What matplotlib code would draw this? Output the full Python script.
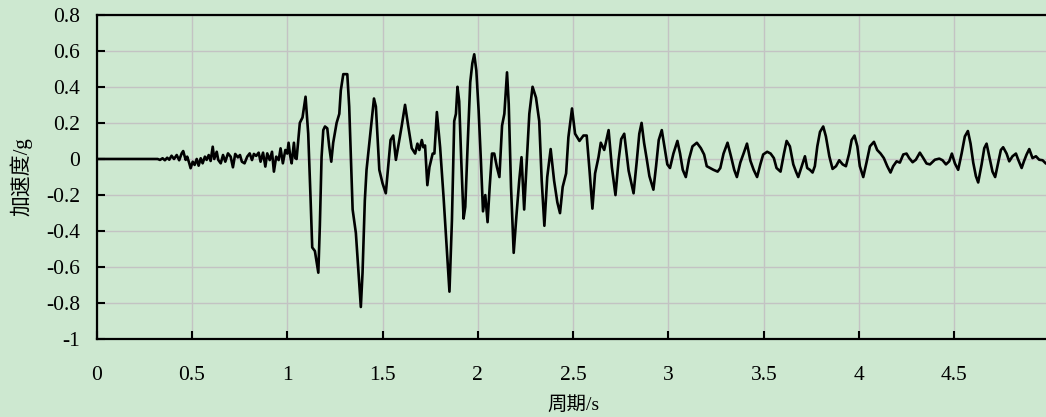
import matplotlib
matplotlib.use("Agg")
import matplotlib.pyplot as plt

# Ground-motion acceleration record (time in s, acceleration in g)
time_s = [
    0.0, 0.32, 0.332, 0.346, 0.358, 0.37, 0.381, 0.393, 0.406, 0.42, 0.433, 0.446, 0.454,
    0.467, 0.475, 0.486, 0.493, 0.504, 0.514, 0.525, 0.535, 0.546, 0.556, 0.568, 0.577,
    0.588, 0.598, 0.609, 0.617, 0.63, 0.638, 0.651, 0.663, 0.675, 0.689, 0.703, 0.715,
    0.727, 0.741, 0.752, 0.762, 0.776, 0.79, 0.803, 0.815, 0.825, 0.837, 0.85, 0.86,
    0.873, 0.885, 0.895, 0.908, 0.92, 0.93, 0.942, 0.955, 0.965, 0.977, 0.99, 1.0,
    1.007, 1.015, 1.023, 1.035, 1.042, 1.049, 1.066, 1.08, 1.096, 1.11, 1.122, 1.131,
    1.145, 1.163, 1.171, 1.18, 1.189, 1.198, 1.21, 1.22, 1.231, 1.241, 1.259, 1.273,
    1.281, 1.294, 1.315, 1.325, 1.334, 1.343, 1.36, 1.372, 1.386, 1.395, 1.407, 1.416,
    1.434, 1.455, 1.465, 1.483, 1.5, 1.517, 1.53, 1.542, 1.556, 1.57, 1.579, 1.591,
    1.6, 1.618, 1.635, 1.653, 1.671, 1.683, 1.693, 1.706, 1.714, 1.723, 1.735, 1.746,
    1.763, 1.772, 1.785, 1.802, 1.82, 1.834, 1.851, 1.864, 1.876, 1.885, 1.893, 1.902,
    1.913, 1.925, 1.934, 1.946, 1.96, 1.971, 1.981, 1.992, 2.004, 2.016, 2.027, 2.039,
    2.051, 2.062, 2.074, 2.086, 2.1, 2.113, 2.127, 2.139, 2.153, 2.162, 2.174, 2.188,
    2.202, 2.217, 2.229, 2.243, 2.256, 2.27, 2.287, 2.305, 2.322, 2.335, 2.349, 2.364,
    2.382, 2.4, 2.417, 2.431, 2.445, 2.463, 2.475, 2.494, 2.51, 2.533, 2.554, 2.571,
    2.586, 2.601, 2.615, 2.633, 2.645, 2.663, 2.686, 2.703, 2.722, 2.738, 2.752, 2.768,
    2.791, 2.817, 2.833, 2.847, 2.859, 2.872, 2.886, 2.9, 2.921, 2.935, 2.949, 2.965,
    2.982, 2.994, 3.008, 3.026, 3.047, 3.061, 3.075, 3.091, 3.108, 3.126, 3.149, 3.17,
    3.187, 3.201, 3.219, 3.236, 3.258, 3.272, 3.289, 3.31, 3.328, 3.345, 3.359, 3.377,
    3.394, 3.412, 3.43, 3.447, 3.465, 3.482, 3.497, 3.518, 3.536, 3.553, 3.567, 3.588,
    3.606, 3.62, 3.637, 3.655, 3.669, 3.681, 3.699, 3.716, 3.728, 3.742, 3.756, 3.768,
    3.781, 3.795, 3.812, 3.826, 3.844, 3.861, 3.879, 3.896, 3.914, 3.931, 3.948, 3.961,
    3.976, 3.991, 4.004, 4.022, 4.039, 4.057, 4.078, 4.095, 4.113, 4.13, 4.148, 4.165,
    4.179, 4.197, 4.214, 4.232, 4.249, 4.263, 4.281, 4.298, 4.319, 4.337, 4.354, 4.372,
    4.398, 4.421, 4.438, 4.456, 4.473, 4.487, 4.503, 4.52, 4.538, 4.555, 4.571, 4.585,
    4.599, 4.613, 4.625, 4.643, 4.657, 4.669, 4.683, 4.7, 4.714, 4.73, 4.744, 4.756,
    4.774, 4.788, 4.805, 4.823, 4.835, 4.853, 4.865, 4.879, 4.893, 4.91, 4.928, 4.945,
    4.963, 4.98, 5.0,
]
accel_g = [
    0.0, 0.0, -0.005, 0.004, -0.007, 0.007, -0.004, 0.018, 0.0, 0.022, -0.007, 0.031, 0.044,
    -0.005, 0.013, -0.024, -0.051, -0.015, -0.033, 0.0, -0.037, 0.004, -0.024, 0.013, -0.005,
    0.022, -0.011, 0.068, 0.0, 0.04, -0.005, -0.024, 0.022, -0.015, 0.031, 0.013, -0.046,
    0.028, 0.009, 0.022, -0.015, -0.024, 0.013, 0.031, -0.006, 0.028, 0.017, 0.035, -0.015,
    0.035, -0.042, 0.031, -0.006, 0.04, -0.07, 0.013, -0.006, 0.059, -0.024, 0.05, 0.03,
    0.09, 0.02, -0.024, 0.09, 0.005, 0.0, 0.2, 0.23, 0.345, 0.14, -0.21, -0.49,
    -0.51, -0.63, -0.37, 0.01, 0.16, 0.18, 0.17, 0.07, -0.015, 0.09, 0.2, 0.25,
    0.38, 0.47, 0.47, 0.29, 0.01, -0.28, -0.41, -0.6, -0.82, -0.63, -0.23, -0.06,
    0.12, 0.335, 0.29, -0.06, -0.135, -0.19, -0.04, 0.105, 0.13, -0.005, 0.05, 0.12,
    0.18, 0.30, 0.18, 0.06, 0.03, 0.085, 0.05, 0.105, 0.065, 0.075, -0.145, -0.045,
    0.03, 0.03, 0.26, 0.065, -0.21, -0.45, -0.735, -0.34, 0.21, 0.25, 0.40, 0.32,
    -0.01, -0.33, -0.265, 0.065, 0.425, 0.53, 0.58, 0.49, 0.27, -0.01, -0.29, -0.2,
    -0.35, -0.155, 0.03, 0.03, -0.045, -0.1, 0.185, 0.25, 0.48, 0.305, -0.155, -0.52,
    -0.32, -0.12, 0.01, -0.28, -0.025, 0.25, 0.4, 0.34, 0.21, -0.12, -0.37, -0.1,
    0.055, -0.12, -0.24, -0.3, -0.155, -0.08, 0.12, 0.28, 0.14, 0.1, 0.13, 0.13,
    -0.065, -0.275, -0.08, 0.01, 0.09, 0.05, 0.16, -0.045, -0.2, -0.01, 0.11, 0.14,
    -0.065, -0.19, -0.02, 0.14, 0.2, 0.09, 0.0, -0.095, -0.17, -0.04, 0.105, 0.16,
    0.05, -0.03, -0.05, 0.03, 0.1, 0.03, -0.06, -0.1, 0.0, 0.07, 0.09, 0.06,
    0.025, -0.04, -0.05, -0.06, -0.07, -0.05, 0.03, 0.09, 0.015, -0.06, -0.1, -0.02,
    0.03, 0.085, -0.01, -0.06, -0.1, -0.03, 0.025, 0.04, 0.03, 0.005, -0.05, -0.07,
    0.03, 0.1, 0.07, -0.03, -0.07, -0.1, -0.04, 0.015, -0.05, -0.06, -0.075, -0.04,
    0.07, 0.15, 0.18, 0.125, 0.015, -0.055, -0.04, -0.007, -0.03, -0.04, 0.03, 0.105,
    0.13, 0.07, -0.04, -0.1, -0.02, 0.07, 0.095, 0.05, 0.03, 0.005, -0.04, -0.075,
    -0.04, -0.013, -0.02, 0.025, 0.03, 0.005, -0.018, -0.004, 0.035, 0.005, -0.025, -0.03,
    -0.004, 0.002, -0.007, -0.03, -0.013, 0.03, -0.025, -0.06, 0.03, 0.125, 0.155, 0.085,
    -0.02, -0.095, -0.13, -0.03, 0.06, 0.085, 0.015, -0.07, -0.1, -0.02, 0.05, 0.065,
    0.03, -0.013, 0.015, 0.03, -0.004, -0.05, -0.013, 0.025, 0.055, 0.005, 0.015, -0.004,
    -0.007, -0.025, -0.03,
]

x_ticks = [0, 0.5, 1, 1.5, 2, 2.5, 3, 3.5, 4, 4.5, 5]
x_tick_labels = ["0", "0.5", "1", "1.5", "2", "2.5", "3", "3.5", "4", "4.5", "5"]
y_ticks = [-1, -0.8, -0.6, -0.4, -0.2, 0, 0.2, 0.4, 0.6, 0.8]
y_tick_labels = ["-1", "-0.8", "-0.6", "-0.4", "-0.2", "0", "0.2", "0.4", "0.6", "0.8"]

bg = "#cde8d0"
serif = ["Liberation Serif", "Noto Sans CJK SC"]
plt.rcParams["font.family"] = serif

fig = plt.figure(figsize=(10.46, 4.17), dpi=100, facecolor=bg)
ax = fig.add_axes([0.0924, 0.1859, 0.9111, 0.7791], facecolor=bg)

ax.plot(time_s, accel_g, color="black", lw=1.9, solid_joinstyle="round", zorder=3)

ax.set_xlim(0, 5)
ax.set_ylim(-1, 0.8)
ax.set_xticks(x_ticks)
ax.set_xticklabels(x_tick_labels)
ax.set_yticks(y_ticks)
ax.set_yticklabels(y_tick_labels)

ax.grid(True, color="#c3c3c3", lw=1.0, zorder=0)
ax.set_axisbelow(True)

for side in ("left", "bottom", "top", "right"):
    ax.spines[side].set_linewidth(1.6)
    ax.spines[side].set_color("black")

ax.tick_params(axis="both", direction="in", length=6, width=1.5,
               labelsize=15.5, colors="black")
ax.tick_params(axis="y", pad=12)
ax.tick_params(axis="x", pad=19)

ax.set_ylabel("加速度/g", fontsize=15, family=serif, labelpad=10)
ax.set_xlabel("周期/s", fontsize=14, family=serif, labelpad=8)

fig.savefig("out.png", dpi=100, facecolor=bg)
